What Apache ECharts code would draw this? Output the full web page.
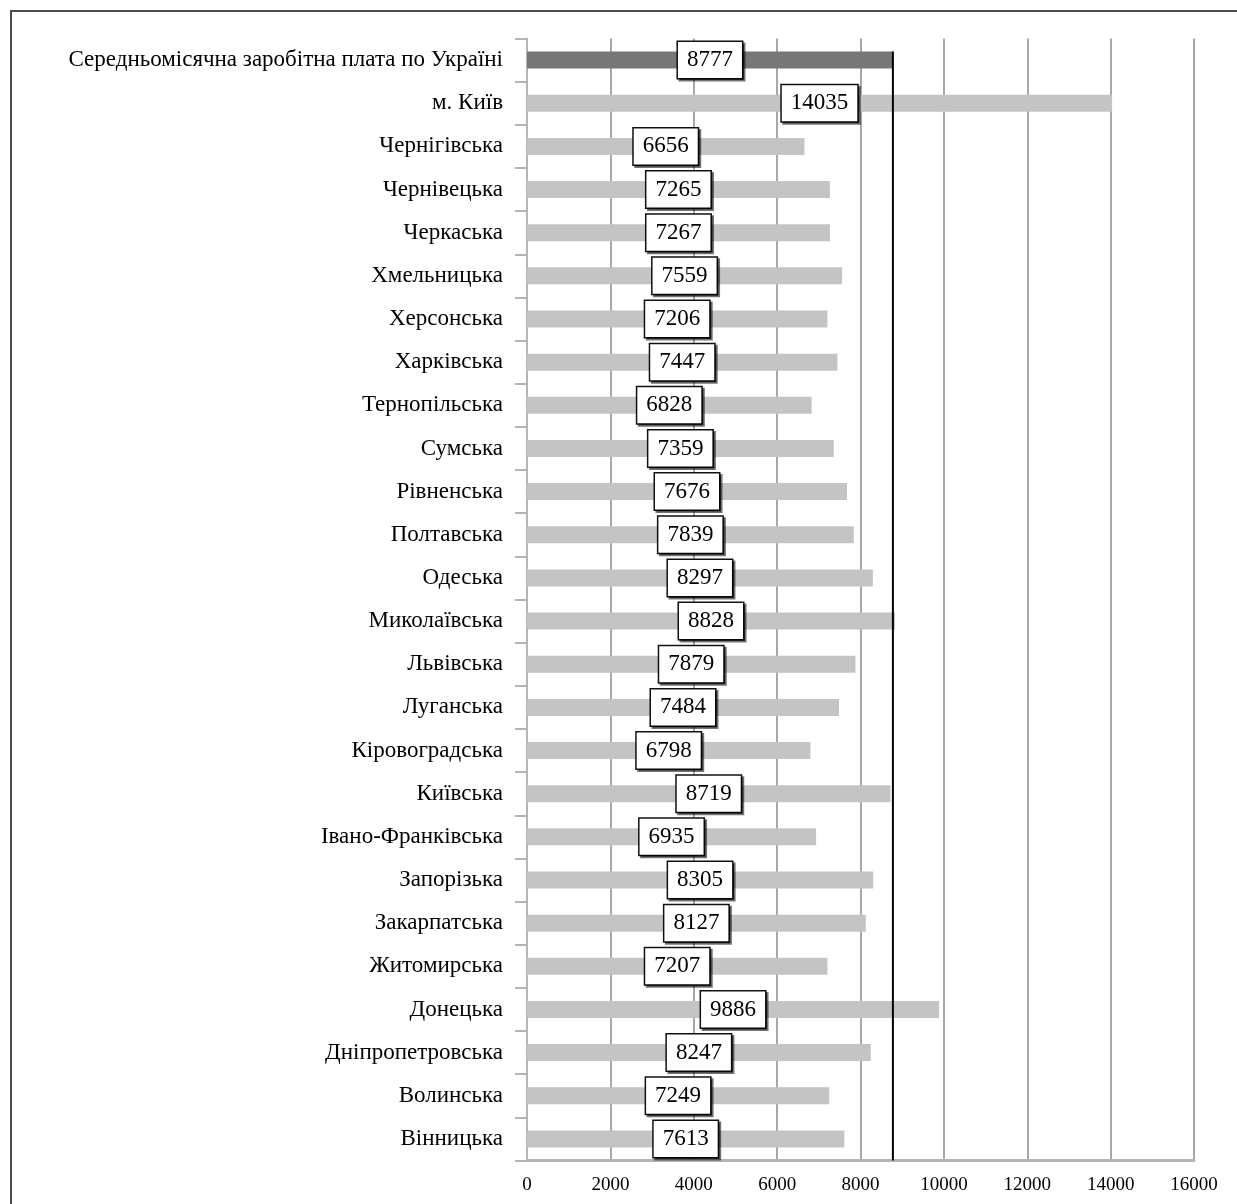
<!DOCTYPE html>
<html>
<head>
<meta charset="utf-8">
<script src="https://cdn.jsdelivr.net/npm/echarts@6/dist/echarts.min.js"></script>
<style>
html,body{margin:0;padding:0;background:#fff;}
#chart{width:1237px;height:1204px;}
</style>
</head>
<body>
<div id="chart"></div>
<script>
const categories = [
  'Середньомісячна заробітна плата по Україні',
  'м. Київ',
  'Чернігівська',
  'Чернівецька',
  'Черкаська',
  'Хмельницька',
  'Херсонська',
  'Харківська',
  'Тернопільська',
  'Сумська',
  'Рівненська',
  'Полтавська',
  'Одеська',
  'Миколаївська',
  'Львівська',
  'Луганська',
  'Кіровоградська',
  'Київська',
  'Івано-Франківська',
  'Запорізька',
  'Закарпатська',
  'Житомирська',
  'Донецька',
  'Дніпропетровська',
  'Волинська',
  'Вінницька'
];
const salaries = [8777, 14035, 6656, 7265, 7267, 7559, 7206, 7447, 6828, 7359, 7676, 7839, 8297, 8828, 7879, 7484, 6798, 8719, 6935, 8305, 8127, 7207, 9886, 8247, 7249, 7613];
const averageValue = [8777];
const xTicks = [0, 2000, 4000, 6000, 8000, 10000, 12000, 14000, 16000];

const SERIF = '"Liberation Serif", "DejaVu Serif", serif';
const BAR_W = 17;

const chart = echarts.init(document.getElementById('chart'));
const barData = salaries.map((v, i) => i === 0 ? { value: v, itemStyle: { color: '#777777' } } : v);

chart.setOption({
  animation: false,
  backgroundColor: '#fff',
  graphic: [{
    type: 'rect',
    shape: { x: 11, y: 11, width: 1260, height: 1230 },
    style: { fill: 'none', stroke: '#4a4a4a', lineWidth: 2 },
    z: 100
  }],
  grid: { left: 527, right: 43, top: 38.5, bottom: 43.5, containLabel: false },
  xAxis: {
    type: 'value',
    min: xTicks[0],
    max: xTicks[xTicks.length - 1],
    interval: 2000,
    axisLine: { show: true, lineStyle: { color: '#b5b5b5', width: 3 } },
    axisTick: { show: false },
    axisLabel: { color: '#000', fontFamily: SERIF, fontSize: 19, margin: 15, formatter: v => String(v) },
    splitLine: { show: true, lineStyle: { color: '#a8a8a8', width: 2 } }
  },
  yAxis: {
    type: 'category',
    inverse: true,
    data: categories,
    axisLine: { show: true, lineStyle: { color: '#b5b5b5', width: 2 } },
    axisTick: { show: true, length: 12, inside: false, lineStyle: { color: '#b5b5b5', width: 2 } },
    axisLabel: { color: '#000', fontFamily: SERIF, fontSize: 23, margin: 24 }
  },
  series: [{
    type: 'bar',
    data: barData,
    barWidth: BAR_W,
    itemStyle: { color: '#c4c4c4' },
    label: {
      show: true,
      position: 'inside',
      formatter: '{c}',
      color: '#000',
      fontFamily: SERIF,
      fontSize: 23,
      backgroundColor: '#fff',
      borderColor: '#111',
      borderWidth: 1.5,
      padding: [7, 9, 6, 9],
      shadowColor: 'rgba(0,0,0,0.55)',
      shadowOffsetX: 2,
      shadowOffsetY: 2,
      shadowBlur: 0
    },
    z: 2
  }, {
    type: 'custom',
    data: averageValue,
    z: 5,
    silent: true,
    renderItem: function (params, api) {
      const v = api.value(0);
      const band = api.size([0, 1])[1];
      const top = api.coord([v, 0]);
      const bottom = api.coord([v, categories.length - 1]);
      return {
        type: 'line',
        shape: { x1: top[0], y1: top[1] - BAR_W / 2, x2: bottom[0], y2: bottom[1] + band / 2 },
        style: { stroke: '#000', lineWidth: 2 }
      };
    },
    encode: { x: 0 }
  }]
});
</script>
</body>
</html>
